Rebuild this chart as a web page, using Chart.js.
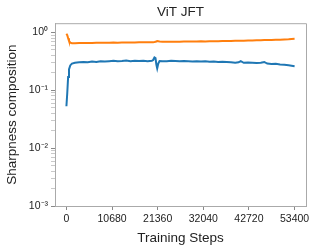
<!DOCTYPE html>
<html>
<head>
<meta charset="utf-8">
<script src="https://cdn.jsdelivr.net/npm/chart.js@4"></script>
<style>
  html, body { margin: 0; padding: 0; background: #fff; }
  #wrap { width: 314px; height: 250px; }
</style>
</head>
<body>
<div id="wrap"><canvas id="sharpChart"></canvas></div>
<script>
// Training steps (x) for both series
const steps = [0, 200, 400, 600, 900, 1300, 2000, 3000, 4000, 5000, 6000, 7000, 8000, 9000,
  10000, 11000, 12000, 13000, 14000, 15000, 16000, 17000, 18000, 19000, 20000, 20300, 20600,
  20850, 21050, 21250, 21500, 21800, 22500, 23500, 24500, 25500, 26500, 27500, 28500, 29500, 30500,
  31500, 32500, 33500, 34500, 35500, 36500, 37500, 38500, 39500, 40300, 40800, 41500, 42500,
  43500, 44500, 45500, 46300, 47000, 48000, 49000, 50000, 51000, 52000, 53400];

// blue series
const blueValues = [0.053, 0.09, 0.17, 0.23, 0.27, 0.29, 0.30, 0.305, 0.31, 0.305, 0.315, 0.31,
  0.32, 0.315, 0.32, 0.325, 0.318, 0.322, 0.328, 0.32, 0.325, 0.322, 0.326, 0.32, 0.324, 0.335,
  0.37, 0.36, 0.28, 0.24, 0.29, 0.322, 0.318, 0.32, 0.325, 0.322, 0.318, 0.323, 0.32, 0.316, 0.32,
  0.315, 0.318, 0.312, 0.314, 0.31, 0.312, 0.308, 0.305, 0.30, 0.305, 0.32, 0.30, 0.303,
  0.30, 0.298, 0.30, 0.31, 0.29, 0.285, 0.288, 0.28, 0.278, 0.272, 0.262];

// orange series
const orangeValues = [0.95, 0.9, 0.8, 0.72, 0.67, 0.655, 0.655, 0.66, 0.658, 0.662, 0.66, 0.665,
  0.663, 0.668, 0.666, 0.67, 0.668, 0.672, 0.67, 0.674, 0.672, 0.676, 0.678, 0.676, 0.68, 0.682,
  0.685, 0.69, 0.70, 0.71, 0.708, 0.70, 0.69, 0.692, 0.69, 0.695, 0.693, 0.698, 0.70, 0.698, 0.702,
  0.705, 0.703, 0.708, 0.71, 0.708, 0.712, 0.715, 0.713, 0.718, 0.72, 0.72, 0.722, 0.726,
  0.73, 0.732, 0.736, 0.74, 0.742, 0.745, 0.75, 0.752, 0.758, 0.765, 0.78];

const xTicks = [0, 10680, 21360, 32040, 42720, 53400];
const yDecadeLabels = { "0": "10⁰", "-1": "10⁻¹", "-2": "10⁻²", "-3": "10⁻³" };

Chart.defaults.font.family = "'Liberation Sans', Arial, sans-serif";
Chart.defaults.color = "#222";

// draws top and right spines
const frame = {
  id: "frame",
  afterDraw(chart) {
    const { ctx, chartArea: a } = chart;
    ctx.save();
    ctx.strokeStyle = "#aaa";
    ctx.lineWidth = 1;
    ctx.beginPath();
    ctx.moveTo(a.left, a.top + 0.5);
    ctx.lineTo(a.right + 0.5, a.top + 0.5);
    ctx.lineTo(a.right + 0.5, a.bottom);
    ctx.stroke();
    ctx.restore();
  },
};

new Chart(document.getElementById("sharpChart"), {
  type: "line",
  data: {
    labels: steps,
    datasets: [
      {
        data: steps.map((s, i) => ({ x: s, y: blueValues[i] })),
        borderColor: "#1f77b4",
        borderWidth: 2,
        pointRadius: 0,
        tension: 0,
      },
      {
        data: steps.map((s, i) => ({ x: s, y: orangeValues[i] })),
        borderColor: "#ff7f0e",
        borderWidth: 2,
        pointRadius: 0,
        tension: 0,
      },
    ],
  },
  options: {
    responsive: true,
    maintainAspectRatio: false,
    animation: false,
    layout: { padding: { left: 0, right: 8, top: 0, bottom: 0 } },
    plugins: {
      legend: { display: false },
      tooltip: { enabled: false },
      title: {
        display: true,
        text: "ViT JFT",
        fullSize: false,
        color: "#222",
        font: { size: 13.5, weight: "normal" },
        padding: { top: 4, bottom: 3 },
      },
    },
    scales: {
      x: {
        type: "linear",
        min: -2670,
        max: 56070,
        afterBuildTicks: (scale) => {
          scale.ticks = xTicks.map((v) => ({ value: v }));
        },
        afterFit: (scale) => { scale.height = 44; },
        ticks: {
          font: { size: 10.5 },
          padding: 3,
          maxRotation: 0,
          autoSkip: false,
          callback: (value) => String(value),
        },
        grid: { drawOnChartArea: false, tickLength: 4, tickColor: "#888" },
        border: { color: "#aaa" },
        title: { display: true, text: "Training Steps", font: { size: 13.5 }, color: "#222" },
      },
      y: {
        type: "logarithmic",
        min: 0.001,
        max: 1.45,
        afterBuildTicks: (scale) => {
          const t = [];
          for (let e = -3; e <= 0; e++) {
            for (let m = 1; m <= 9; m++) {
              const v = m * Math.pow(10, e);
              if (v <= 1.45) t.push({ value: v, major: m === 1 });
            }
          }
          scale.ticks = t;
        },
        afterFit: (scale) => { scale.width = 55; },
        ticks: {
          font: { size: 10.5 },
          padding: 3,
          autoSkip: false,
          callback: (value) => {
            const e = Math.log10(value);
            if (Math.abs(e - Math.round(e)) < 1e-9) return yDecadeLabels[String(Math.round(e))] || "";
            return "";
          },
        },
        grid: {
          drawOnChartArea: false,
          tickLength: 4,
          tickColor: (c) => (c.tick && c.tick.major ? "#888" : "#bbb"),
          tickWidth: (c) => (c.tick && c.tick.major ? 1 : 0.8),
        },
        border: { color: "#aaa" },
        title: { display: true, text: "Sharpness composition", font: { size: 13.5 }, color: "#222" },
      },
    },
  },
  plugins: [frame],
});
</script>
</body>
</html>
